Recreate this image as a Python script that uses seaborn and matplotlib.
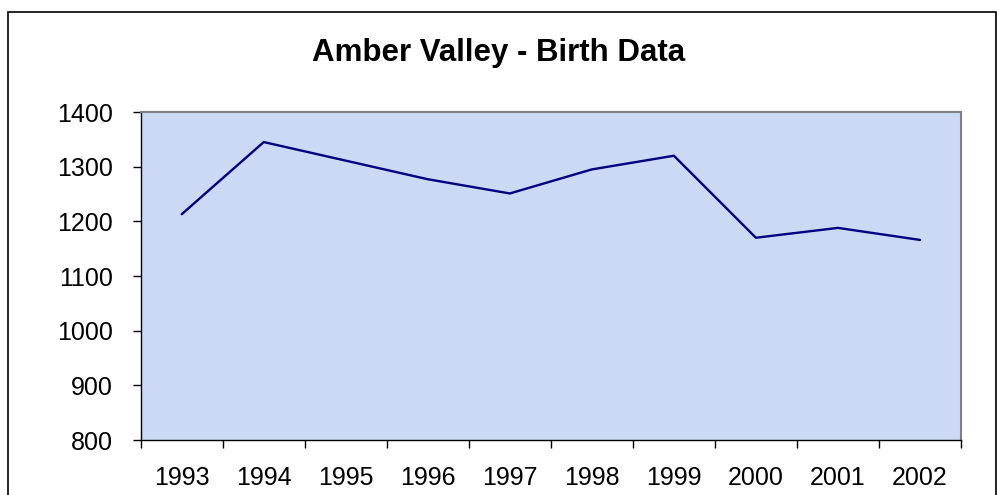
import pandas as pd
import seaborn as sns
import matplotlib.pyplot as plt
from matplotlib.patches import Rectangle

# Dados
anos = ['1993', '1994', '1995', '1996', '1997', '1998', '1999', '2000', '2001', '2002']
nascimentos = [1213, 1345, 1311, 1277, 1251, 1295, 1320, 1170, 1188, 1166]
y_ticks = [800, 900, 1000, 1100, 1200, 1300, 1400]

df = pd.DataFrame({'ano': anos, 'nascimentos': nascimentos})
df['pos'] = range(len(anos))

sns.set_style('white')
plt.rcParams['font.family'] = ['Liberation Sans', 'DejaVu Sans']
plt.rcParams['text.color'] = 'black'
plt.rcParams['xtick.color'] = 'black'
plt.rcParams['ytick.color'] = 'black'

fig = plt.figure(figsize=(9.97, 4.95), dpi=100)
ax = fig.add_axes([140.7 / 997, 1 - 440 / 495, (961 - 140.7) / 997, (440 - 112) / 495])
ax.set_facecolor('#cbd9f5')

sns.lineplot(data=df, x='pos', y='nascimentos', color='#000080', linewidth=1.7, ax=ax)

ax.set_xlim(-0.5, len(anos) - 0.5)
ax.set_ylim(800, 1400)
ax.set_yticks(y_ticks)
ax.set_yticklabels([str(v) for v in y_ticks], fontsize=18)

# ticks entre as categorias, rótulos no centro
ax.set_xticks([i - 0.5 for i in range(len(anos) + 1)])
ax.set_xticklabels([])
ax.set_xticks(list(range(len(anos))), minor=True)
ax.set_xticklabels(anos, minor=True, fontsize=18)
ax.tick_params(axis='x', which='major', length=6, width=1, color='black', direction='out', bottom=True)
ax.tick_params(axis='x', which='minor', length=0, pad=19)
ax.tick_params(axis='y', length=6, width=1, color='black', direction='out', left=True, pad=14)

for lado in ['left', 'bottom']:
    ax.spines[lado].set_color('black')
    ax.spines[lado].set_linewidth(1)
for lado in ['top', 'right']:
    ax.spines[lado].set_color('#808080')
    ax.spines[lado].set_linewidth(1.5)

ax.set_xlabel('')
ax.set_ylabel('')

fig.text(0.5, 1 - 53 / 495, 'Amber Valley - Birth Data', ha='center', va='center',
         fontsize=22.5, fontweight='bold', color='black')

# moldura externa
fig.patches.append(Rectangle((8 / 997, -0.05), (996 - 8) / 997, 1.05 - 12 / 495,
                             transform=fig.transFigure, fill=False,
                             edgecolor='black', linewidth=1.2))

fig.savefig('out.png', dpi=100)
